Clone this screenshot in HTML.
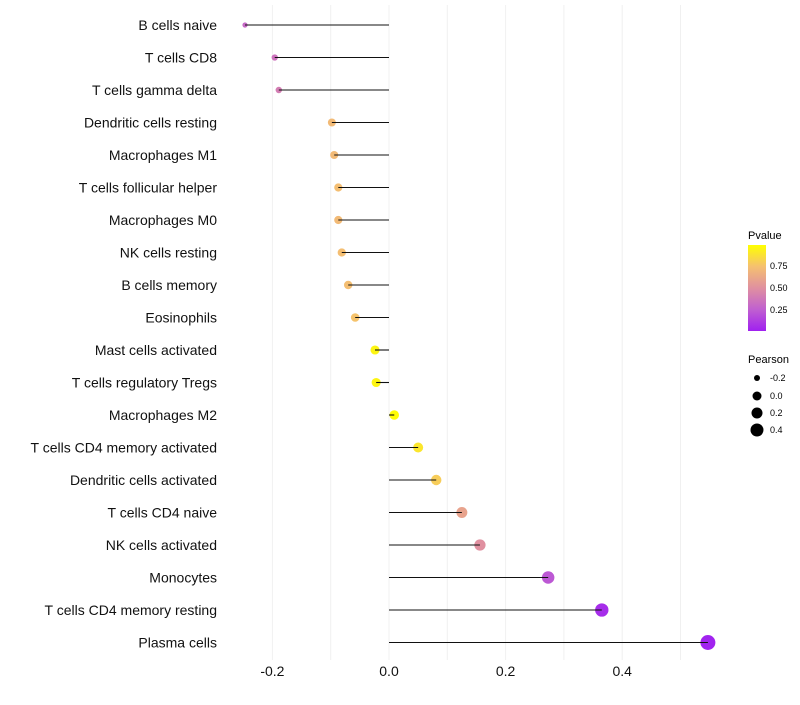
<!DOCTYPE html>
<html><head><meta charset="utf-8"><style>
body{margin:0;background:#fff;font-family:"Liberation Sans",sans-serif;}
</style></head><body>
<svg id="chart" width="800" height="700" xmlns="http://www.w3.org/2000/svg">
<g id="grid"></g>
<g id="dots"></g>
<g id="marks"></g>
<g id="labels"></g>
<g id="legend">
<defs><linearGradient id="pg" x1="0" y1="1" x2="0" y2="0">
<stop offset="0" stop-color="#a020f0"/><stop offset="0.25" stop-color="#c060d0"/><stop offset="0.5" stop-color="#e090a0"/><stop offset="0.75" stop-color="#f5c070"/><stop offset="1" stop-color="#ffff00"/></linearGradient></defs>
<text x="748" y="239" font-size="11">Pvalue</text>
<rect x="748" y="245" width="18" height="86" fill="url(#pg)"/>
<text x="770" y="269" font-size="9">0.75</text>
<text x="770" y="291" font-size="9">0.50</text>
<text x="770" y="313" font-size="9">0.25</text>
<text x="748" y="363" font-size="11">Pearson</text>
<circle cx="757" cy="378" r="3"/><text x="770" y="381" font-size="9">-0.2</text>
<circle cx="757" cy="396" r="4.5"/><text x="770" y="399" font-size="9">0.0</text>
<circle cx="757" cy="413" r="5.5"/><text x="770" y="416" font-size="9">0.2</text>
<circle cx="757" cy="430" r="6.5"/><text x="770" y="433" font-size="9">0.4</text>
</g>
</svg>
<script>
const categories=["B cells naive","T cells CD8","T cells gamma delta","Dendritic cells resting","Macrophages M1","T cells follicular helper","Macrophages M0","NK cells resting","B cells memory","Eosinophils","Mast cells activated","T cells regulatory  Tregs","Macrophages M2","T cells CD4 memory activated","Dendritic cells activated","T cells CD4 naive","NK cells activated","Monocytes","T cells CD4 memory resting","Plasma cells"];
const pearson=[-0.247,-0.196,-0.189,-0.098,-0.094,-0.087,-0.087,-0.081,-0.070,-0.058,-0.024,-0.022,0.009,0.050,0.081,0.125,0.156,0.273,0.365,0.547];
const pvalue=[0.3,0.35,0.4,0.72,0.72,0.74,0.72,0.74,0.74,0.76,0.96,0.96,0.99,0.9,0.8,0.6,0.5,0.22,0.05,0.01];
const xticks=[-0.2,0,0.2,0.4];
const NS="http://www.w3.org/2000/svg";
function X(v){return 389+v*583;}
function Y(i){return 25+i*32.5;}
function mk(t,a,p){const e=document.createElementNS(NS,t);for(const k in a)e.setAttribute(k,a[k]);p.appendChild(e);return e;}
const stops=[[0,[160,32,240]],[0.25,[192,96,208]],[0.5,[224,144,160]],[0.75,[245,192,112]],[1,[255,255,0]]];
function col(p){for(let i=1;i<stops.length;i++){if(p<=stops[i][0]){const a=stops[i-1],b=stops[i],t=(p-a[0])/(b[0]-a[0]);return "rgb("+a[1].map((c,j)=>Math.round(c+(b[1][j]-c)*t)).join(",")+")";}}return "rgb(255,255,0)";}
const g=document.getElementById('grid'),m=document.getElementById('marks'),dg=document.getElementById('dots'),lb=document.getElementById('labels');
for(let v=-0.2;v<=0.51;v+=0.1){const l=mk('line',{x1:X(v),x2:X(v),y1:5,y2:660,stroke:'#f0f0f0','stroke-width':1},g);

}
xticks.forEach(v=>{const t=mk('text',{x:X(v),y:676,'font-size':14,'text-anchor':'middle',fill:'#111'},lb);t.textContent=v.toFixed(1);

});
categories.forEach((c,i)=>{
const t=mk('text',{x:217,y:Y(i)+5,'font-size':14,'text-anchor':'end',fill:'#111'},lb);t.textContent=c;


const v=pearson[i];
const r=Math.sqrt(Math.max(2.25,62*(v+0.356)));
const d=mk('circle',{cx:X(v),cy:Y(i),r:r,fill:col(pvalue[i])},dg);


const l=mk('line',{x1:X(0),x2:X(v),y1:Y(i),y2:Y(i),stroke:'#111','stroke-width':1.1},m);


});
</script>
</body></html>
